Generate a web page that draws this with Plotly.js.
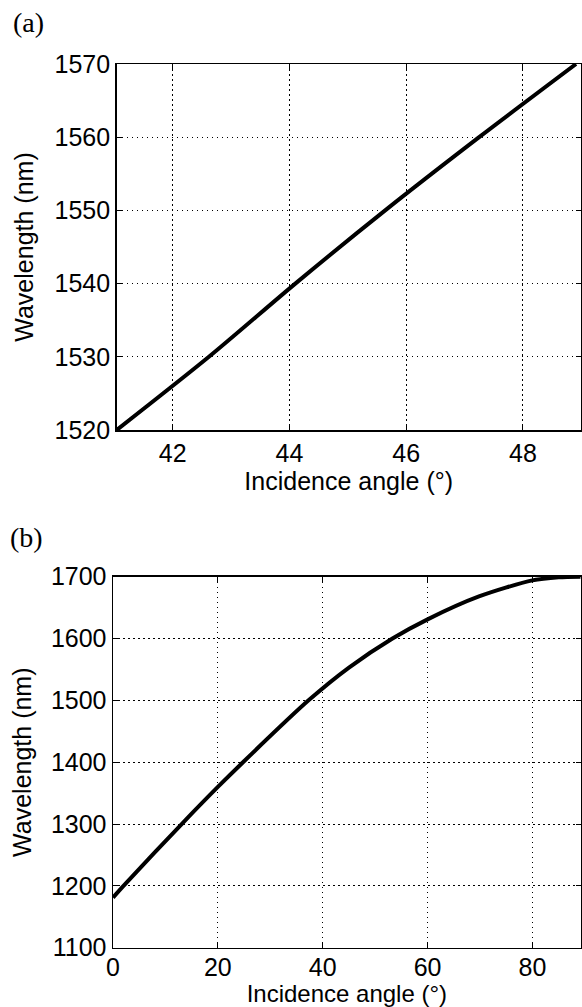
<!DOCTYPE html>
<html>
<head>
<meta charset="utf-8">
<script src="https://cdn.plot.ly/plotly-3.0.1.min.js"></script>
<style>html,body{margin:0;padding:0;background:#fff;}#chart{width:582px;height:1007px;}</style>
</head>
<body>
<div id="chart"></div>
<script>
// Panel (a)
const angleA = [41.04, 42.62, 44.1, 45.64, 47.25, 48.91];
const wavelengthA = [1520, 1530, 1540, 1550, 1560, 1570];
const xTicksA = [42, 44, 46, 48];
const yTicksA = [1520, 1530, 1540, 1550, 1560, 1570];

// Panel (b)
const angleB = [0, 2, 13.1, 20, 24.8, 37.3, 45, 53.3, 60, 69.8, 80, 85, 89.2];
const wavelengthB = [1181, 1200, 1300, 1360, 1400, 1500, 1553, 1600, 1631, 1668, 1694, 1699, 1700];
const xTicksB = [0, 20, 40, 60, 80];
const yTicksB = [1100, 1200, 1300, 1400, 1500, 1600, 1700];

const labels = {x: 'Incidence angle (°)', y: 'Wavelength (nm)', a: '(a)', b: '(b)'};

const W = 582, H = 1007;
const font = {family: 'Liberation Sans, Arial, sans-serif', size: 25, color: '#000'};
const titleFontB = {family: 'Liberation Sans, Arial, sans-serif', size: 24, color: '#000'};
const serif = {family: 'Liberation Serif, Times New Roman, serif', size: 28, color: '#000'};

function axisBase(extra) {
  return Object.assign({
    showline: true, linecolor: '#000', linewidth: 1.5, mirror: 'all',
    ticks: 'inside', ticklen: 5, tickcolor: '#000', tickwidth: 1,
    showgrid: true, gridcolor: '#000', gridwidth: 1, griddash: '1.5px,3.5px',
    zeroline: false, tickfont: font, automargin: false, fixedrange: true
  }, extra);
}

const traces = [
  {x: angleA, y: wavelengthA, xaxis: 'x', yaxis: 'y', mode: 'lines',
   line: {color: '#000', width: 4, shape: 'spline', smoothing: 0.8}, hoverinfo: 'skip'},
  {x: angleB, y: wavelengthB, xaxis: 'x2', yaxis: 'y2', mode: 'lines',
   line: {color: '#000', width: 4, shape: 'spline', smoothing: 0.8}, hoverinfo: 'skip'}
];

const layout = {
  width: W, height: H,
  margin: {l: 0, r: 0, t: 0, b: 0},
  paper_bgcolor: '#fff', plot_bgcolor: '#fff',
  showlegend: false,
  xaxis: axisBase({domain: [116.7 / W, 580.7 / W], range: [41.04, 48.99], tickvals: xTicksA,
    anchor: 'y', title: {text: labels.x, font: font, standoff: 2}}),
  yaxis: axisBase({domain: [1 - 430 / H, 1 - 64 / H], range: [1520, 1570], tickvals: yTicksA,
    anchor: 'x', title: {text: labels.y, font: font, standoff: 14}}),
  xaxis2: axisBase({domain: [113 / W, 580.7 / W], range: [0, 89.2], tickvals: xTicksB,
    ticklabelstandoff: -3,
    anchor: 'y2', title: {text: labels.x, font: titleFontB, standoff: 8}}),
  yaxis2: axisBase({domain: [1 - 947.7 / H, 1 - 576.7 / H], range: [1100, 1700], tickvals: yTicksB,
    anchor: 'x2', title: {text: labels.y, font: font, standoff: 12}}),
  annotations: [
    {text: labels.a, xref: 'paper', yref: 'paper', x: 28 / W, y: 1 - 22 / H,
     xanchor: 'center', yanchor: 'middle', showarrow: false, font: serif},
    {text: labels.b, xref: 'paper', yref: 'paper', x: 26 / W, y: 1 - 537 / H,
     xanchor: 'center', yanchor: 'middle', showarrow: false, font: serif}
  ]
};

Plotly.newPlot('chart', traces, layout, {staticPlot: true, displayModeBar: false});
</script>
</body>
</html>
